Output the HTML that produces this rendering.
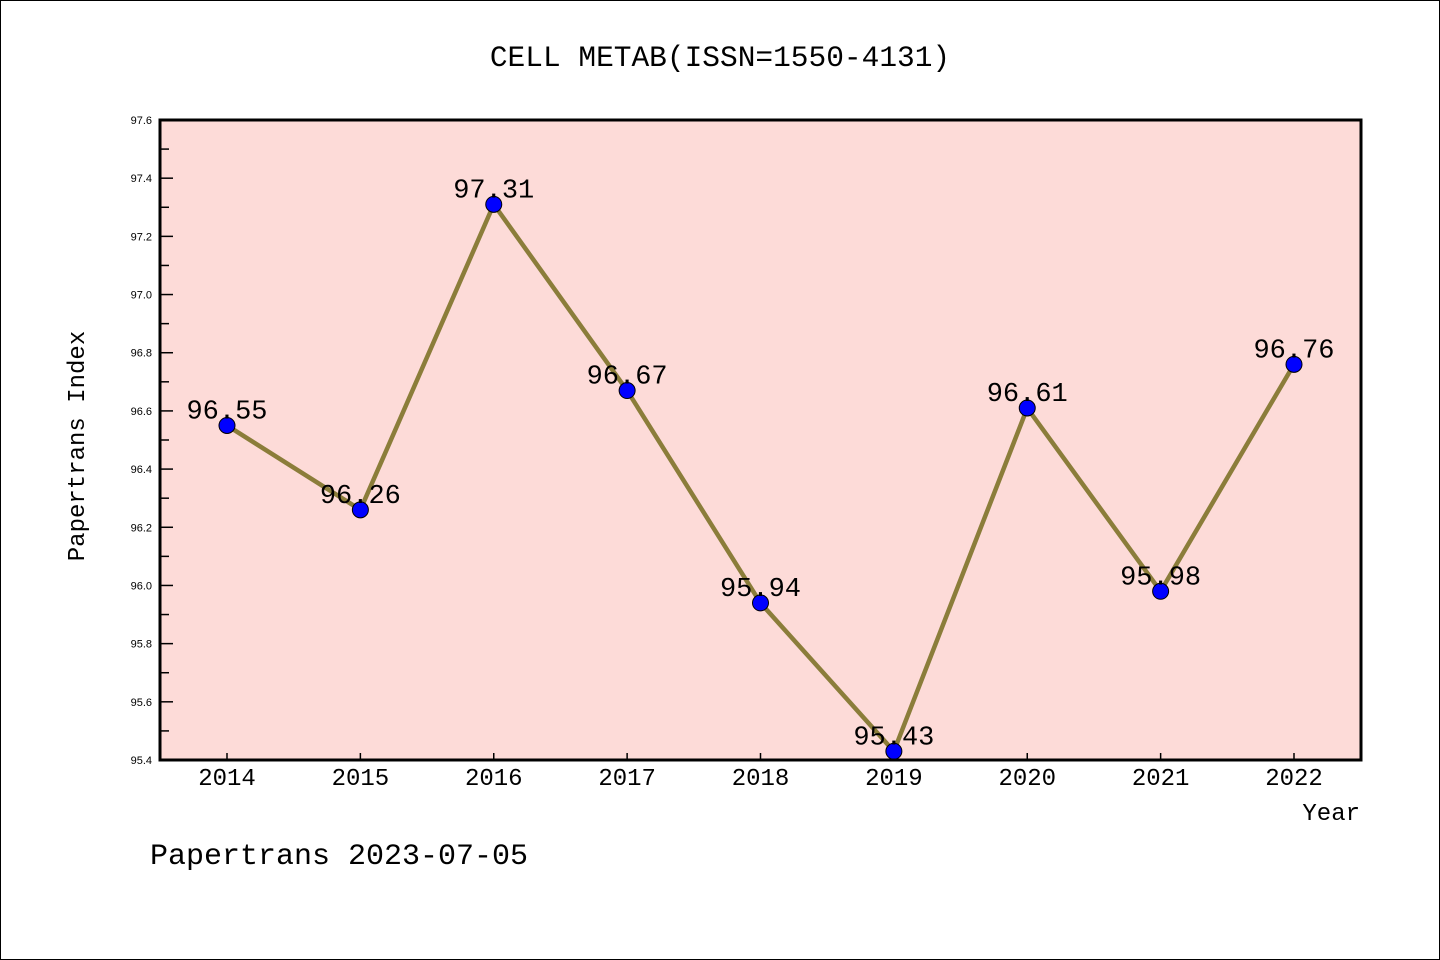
<!DOCTYPE html>
<html><head><meta charset="utf-8"><style>
html,body{margin:0;padding:0;background:#fff}
svg{display:block}
text{font-family:"Liberation Mono","WenQuanYi Zen Hei",monospace}
text.tk{font-family:"Liberation Sans",sans-serif}
</style></head><body>
<svg id="chart" width="1440" height="960">
<rect x="0.5" y="0.5" width="1439" height="959" fill="#fff" stroke="#000"/>
<text x="720" y="66" font-size="29.5" text-anchor="middle">CELL METAB(ISSN=1550-4131)</text>
<rect x="160" y="120" width="1201" height="640" fill="#fddbd8"/>
<g id="ticks"></g>
<g id="series"></g>
<rect x="160" y="120" width="1201" height="640" fill="none" stroke="#000" stroke-width="3"/>
<text x="84" y="446" font-size="24" text-anchor="middle" transform="rotate(-90 84 446)">Papertrans Index</text>
<text x="1360" y="820" font-size="24" text-anchor="end">Year</text>
<text x="150" y="864" font-size="30">Papertrans 2023-07-05</text>
</svg>
<script>
const years=[2014,2015,2016,2017,2018,2019,2020,2021,2022];
const values=[96.55,96.26,97.31,96.67,95.94,95.43,96.61,95.98,96.76];
const yTicks=[95.4,95.6,95.8,96.0,96.2,96.4,96.6,96.8,97.0,97.2,97.4,97.6];
const NS="http://www.w3.org/2000/svg";
const x=yr=>227+(yr-2014)*(1294-227)/8;
const y=v=>760-(v-95.4)*640/2.2;
function mk(tag,attrs,parent){const e=document.createElementNS(NS,tag);for(const k in attrs)e.setAttribute(k,attrs[k]);parent.appendChild(e);return e;}
const tg=document.getElementById('ticks');
yTicks.forEach((t,i)=>{
  const yy=y(t);
  const l=mk('line',{x1:160,x2:173,y1:yy,y2:yy,stroke:'#000','stroke-width':1.5},tg);
  
  
  if(i<yTicks.length-1){const ym=y(t+0.1);const m=mk('line',{x1:160,x2:169,y1:ym,y2:ym,stroke:'#000','stroke-width':1.5},tg);
  
  }
  const tx=mk('text',{x:152,y:yy+4,'font-size':11,'text-anchor':'end','class':'tk'},tg);tx.textContent=t.toFixed(1);
  
  
});
years.forEach(yr=>{
  const xx=x(yr);
  const l=mk('line',{x1:xx,x2:xx,y1:760,y2:753,stroke:'#000','stroke-width':1.5},tg);
  
  
  const tx=mk('text',{x:xx,y:785,'font-size':24,'text-anchor':'middle'},tg);tx.textContent=yr;
  
  
});
const sg=document.getElementById('series');
const pl=mk('polyline',{points:years.map((yr,i)=>x(yr)+','+y(values[i])).join(' '),fill:'none',stroke:'#8b7d3a','stroke-width':4.5},sg);


years.forEach((yr,i)=>{
  const c=mk('circle',{cx:x(yr),cy:y(values[i]),r:8,fill:'#0000ff',stroke:'#000','stroke-width':1},sg);
  
  
  const t=mk('text',{x:x(yr),y:y(values[i])-7,'font-size':27,'text-anchor':'middle'},sg);t.textContent=values[i].toFixed(2);
  
  
});
</script>
</body></html>
